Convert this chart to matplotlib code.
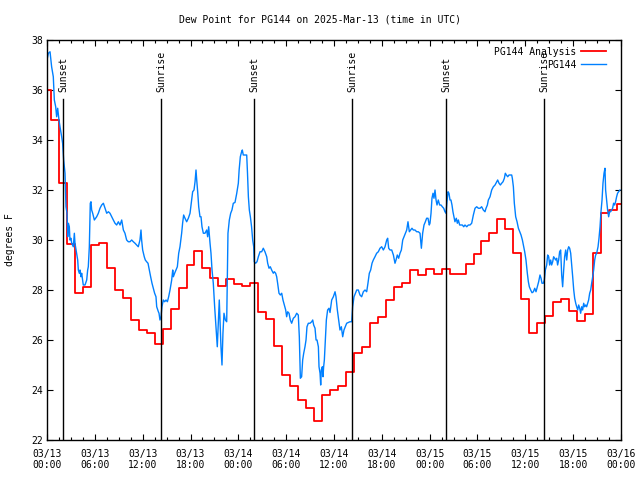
import numpy as np
import matplotlib
matplotlib.use('Agg')
import matplotlib.pyplot as plt
from matplotlib.ticker import MultipleLocator

plt.rcParams['font.family'] = ['DejaVu Sans Mono']

title = 'Dew Point for PG144 on 2025-Mar-13 (time in UTC)'

# hourly analysis values, hours 0..72 after 2025-03-13 00:00 UTC
analysis = [36.0, 34.8, 32.3, 29.85, 27.87, 28.13, 29.8, 29.87, 28.9, 28.0,
            27.67, 26.8, 26.4, 26.27, 25.84, 26.43, 27.23, 28.1, 29.0, 29.55,
            28.87, 28.47, 28.16, 28.44, 28.24, 28.16, 28.27, 27.13, 26.83, 25.76,
            24.6, 24.16, 23.6, 23.3, 22.77, 23.8, 24.0, 24.16, 24.73, 25.47,
            25.71, 26.67, 26.93, 27.6, 28.13, 28.3, 28.8, 28.6, 28.83, 28.63,
            28.83, 28.63, 28.63, 29.03, 29.43, 29.96, 30.3, 30.83, 30.43, 29.5,
            27.64, 26.27, 26.67, 26.97, 27.53, 27.64, 27.16, 26.76, 27.04, 29.47,
            31.07, 31.2, 31.44]
analysis_hours = list(range(len(analysis)))

# station observations (hours after start, deg F)
obs_hours = [
    0.0, 0.17, 0.38, 0.45, 0.58, 0.79, 0.92, 1.09, 1.21, 1.34, 1.5, 1.63, 1.84, 1.96,
    2.09, 2.26, 2.38, 2.51, 2.6, 2.68, 2.8, 2.88, 3.0, 3.1, 3.3, 3.43, 3.51, 3.72,
    3.85, 3.93, 4.05, 4.14, 4.26, 4.35, 4.47, 4.55, 4.77, 4.98, 5.1, 5.18, 5.31, 5.43,
    5.52, 5.6, 5.73, 5.94, 6.23, 6.44, 6.65, 6.86, 7.07, 7.28, 7.49, 7.7, 7.9, 8.11,
    8.32, 8.53, 8.74, 8.95, 9.16, 9.37, 9.58, 9.78, 9.99, 10.2, 10.41, 10.62, 10.83,
    11.04, 11.25, 11.45, 11.66, 11.79, 11.87, 12.0, 12.2,
    12.33, 12.5, 12.67, 12.83, 13.0, 13.17, 13.33, 13.5, 13.67, 13.76, 13.97, 14.05,
    14.17, 14.3, 14.42, 14.59, 14.76, 14.93, 15.1, 15.26, 15.43, 15.64, 15.77, 15.85,
    16.01, 16.18, 16.35, 16.52, 16.68, 16.89, 17.01, 17.14, 17.31, 17.52, 17.73, 17.94,
    18.15, 18.27, 18.44, 18.57, 18.69, 18.78, 18.9, 19.03, 19.19, 19.32, 19.44, 19.61,
    19.82, 20.03, 20.15, 20.28, 20.45, 20.57, 20.7, 20.86, 21.03, 21.2, 21.36, 21.49,
    21.61, 21.7, 21.82, 21.95, 22.07, 22.2, 22.37, 22.54, 22.62, 22.7, 22.87, 23.04,
    23.2, 23.37, 23.58, 23.79, 24.0,
    24.1, 24.25, 24.41, 24.5, 24.62, 24.84, 25.05, 25.15, 25.26, 25.38, 25.51, 25.66,
    25.8, 25.93, 26.0, 26.17, 26.34, 26.51, 26.72, 26.93, 27.13, 27.34, 27.56, 27.68,
    27.85, 28.01, 28.18, 28.39, 28.52, 28.68, 28.81, 28.93, 29.1, 29.27, 29.44, 29.6,
    29.77, 29.94, 30.06, 30.19, 30.36, 30.52, 30.69, 30.9, 31.11, 31.32, 31.52, 31.65,
    31.78, 31.94, 32.07, 32.2, 32.36, 32.49, 32.61, 32.78, 32.99, 33.2, 33.33, 33.45,
    33.62, 33.75, 33.87, 34.04, 34.12, 34.25, 34.33, 34.41, 34.54, 34.62, 34.7, 34.79,
    34.87, 35.04, 35.2, 35.37,
    35.5, 35.71, 35.92, 36.13, 36.25, 36.42, 36.59, 36.75, 36.92, 37.09, 37.25, 37.42,
    37.59, 37.8, 38.0, 38.22, 38.34, 38.51, 38.68, 38.85, 39.05, 39.26, 39.47, 39.68,
    39.89, 40.1, 40.26, 40.43, 40.6, 40.77, 40.93, 41.14, 41.35, 41.56, 41.77, 41.98,
    42.19, 42.4, 42.61, 42.73, 42.86, 43.03, 43.24, 43.45, 43.65, 43.78, 43.94, 44.11,
    44.28, 44.45, 44.62, 44.78, 44.95, 45.12, 45.28, 45.45, 45.62, 45.78, 45.95, 46.16,
    46.37, 46.58, 46.79, 46.96, 47.12, 47.29, 47.46, 47.62, 47.79,
    47.95, 48.04, 48.17, 48.29, 48.42, 48.54, 48.67, 48.8, 48.92, 49.08, 49.25, 49.42,
    49.59, 49.76, 49.92, 50.05, 50.17, 50.3, 50.42, 50.55, 50.67, 50.8, 50.92, 51.05,
    51.17, 51.34, 51.47, 51.6, 51.76, 51.93, 52.1, 52.27, 52.43, 52.65, 52.85, 53.06,
    53.27, 53.48, 53.69, 53.9, 54.11, 54.32, 54.52, 54.73, 54.94, 55.07, 55.24, 55.36,
    55.57, 55.78, 55.99, 56.2, 56.41, 56.53, 56.7, 56.87, 57.03, 57.2, 57.37, 57.49,
    57.62, 57.79, 57.95, 58.12, 58.29, 58.37, 58.5, 58.62, 58.79, 58.96, 59.13, 59.3,
    59.46, 59.63, 59.79, 59.92,
    60.08, 60.25, 60.38, 60.5, 60.67, 60.84, 61.01, 61.18, 61.34, 61.5, 61.67, 61.84,
    61.97, 62.09, 62.26, 62.38, 62.51, 62.68, 62.8, 62.93, 63.05, 63.18, 63.3, 63.43,
    63.55, 63.68, 63.8, 63.93, 64.05, 64.18, 64.3, 64.43, 64.56, 64.68, 64.81, 64.93,
    65.06, 65.19, 65.31, 65.44, 65.56, 65.69, 65.82, 65.94, 66.07, 66.19, 66.32, 66.44,
    66.57, 66.69, 66.82, 66.94, 67.07, 67.19, 67.32, 67.44, 67.57, 67.69, 67.82, 67.94,
    68.07, 68.2, 68.32, 68.45, 68.57, 68.7, 68.82, 68.95, 69.12, 69.24, 69.37, 69.49,
    69.62, 69.74, 69.87, 69.99, 70.07, 70.2, 70.32, 70.45, 70.57, 70.7, 70.82, 70.95,
    71.07, 71.2, 71.32, 71.45, 71.57, 71.7, 71.87]
obs = [
    37.2, 37.47, 37.53, 37.33, 36.93, 36.53, 35.6, 35.33, 34.93, 35.27, 34.8, 34.53, 34.13, 33.87,
    33.2, 32.67, 31.33, 31.07, 30.13, 30.67, 30.53, 30.0, 30.07, 29.87, 29.73, 30.27, 29.87, 29.47,
    29.2, 28.8, 28.67, 28.8, 28.53, 28.67, 28.4, 28.2, 28.2, 28.4, 28.8, 28.93, 29.73, 31.47,
    31.53, 31.2, 31.07, 30.8, 30.93, 31.07, 31.27, 31.4, 31.47, 31.27, 31.07, 31.13, 31.07, 30.93,
    30.8, 30.67, 30.6, 30.73, 30.6, 30.8, 30.4, 30.27, 30.0, 29.93, 29.93, 30.0, 29.93,
    29.87, 29.8, 29.73, 30.0, 30.4, 30.0, 29.6, 29.33,
    29.2, 29.13, 29.07, 28.8, 28.53, 28.27, 28.07, 27.87, 27.73, 27.33, 27.13, 27.07,
    26.8, 26.93, 27.33, 27.6, 27.53, 27.6, 27.53, 27.73, 28.0, 28.4, 28.8, 28.53,
    28.67, 28.8, 28.93, 29.47, 29.73, 30.27, 30.67, 31.0, 30.87, 30.73, 30.87, 31.07,
    31.6, 31.93, 32.0, 32.33, 32.8, 32.4, 31.93, 31.33, 30.93, 30.93, 30.53, 30.27,
    30.27, 30.4, 30.13, 30.53, 29.87, 29.47, 28.8, 28.27, 27.33, 26.53, 25.73, 26.67,
    27.6, 26.8, 25.73, 25.0, 26.27, 27.07, 26.8, 26.73, 28.4, 30.27, 30.8, 31.07,
    31.2, 31.47, 31.5, 31.85, 32.27,
    32.8, 33.33, 33.53, 33.6, 33.4, 33.4, 33.4, 32.67, 31.73, 31.2, 30.93, 30.53,
    30.0, 29.73, 29.13, 29.07, 29.13, 29.33, 29.53, 29.53, 29.67, 29.53, 29.33, 29.07,
    28.87, 28.93, 28.8, 28.67, 28.73, 28.67, 28.53, 28.27, 27.87, 27.8, 27.87, 27.6,
    27.4, 27.2, 26.93, 27.13, 27.07, 26.8, 26.67, 26.87, 26.93, 27.07, 27.0, 26.13,
    24.47, 24.53, 25.2, 25.47, 25.73, 26.0, 26.53, 26.67, 26.67, 26.73, 26.8, 26.6,
    26.47, 26.0, 26.0, 25.73, 24.93, 24.67, 24.2, 24.8, 24.93, 24.53, 24.93, 25.2,
    25.73, 26.8, 27.2, 27.27,
    27.1, 27.6, 27.73, 27.93, 27.73, 27.2, 26.8, 26.4, 26.53, 26.13, 26.4, 26.53,
    26.67, 26.7, 26.73, 26.73, 27.33, 27.73, 27.87, 28.0, 28.0, 27.8, 27.73, 27.93,
    28.0, 27.93, 28.27, 28.67, 28.8, 29.07, 29.2, 29.33, 29.47, 29.53, 29.67, 29.73,
    29.6, 29.73, 30.0, 30.07, 29.67, 29.6, 29.6, 29.4, 29.07, 29.2, 29.4, 29.27,
    29.47, 29.6, 30.0, 30.13, 30.27, 30.4, 30.73, 30.33, 30.4, 30.47, 30.4, 30.4,
    30.33, 30.33, 30.27, 29.67, 30.27, 30.6, 30.73, 30.87, 30.87,
    30.6, 30.67, 31.07, 31.67, 31.87, 31.67, 32.0, 31.6, 31.4, 31.6, 31.4, 31.4,
    31.33, 31.27, 31.13, 31.07, 31.53, 31.93, 31.87, 31.6, 31.6, 31.4, 31.13, 30.93,
    30.73, 30.87, 30.67, 30.8, 30.6, 30.6, 30.6, 30.53, 30.6, 30.53, 30.6, 30.6,
    30.67, 31.0, 31.27, 31.33, 31.27, 31.27, 31.33, 31.2, 31.13, 31.27, 31.4, 31.6,
    31.73, 32.0, 32.13, 32.2, 32.33, 32.4, 32.27, 32.2, 32.27, 32.33, 32.47, 32.67,
    32.6, 32.53, 32.6, 32.6, 32.6, 32.47, 32.13, 31.47, 30.93, 30.73, 30.47, 30.33,
    30.2, 30.0, 29.73, 29.53,
    29.2, 28.67, 28.33, 28.13, 28.0, 27.89, 27.93, 28.07, 27.93, 28.13, 28.33, 28.6,
    28.47, 28.27, 28.27, 28.4, 28.8, 29.0, 29.4, 29.33, 29.0, 29.2, 29.0, 29.13,
    29.33, 29.27, 29.2, 29.27, 29.0, 29.2, 29.53, 29.6, 28.6, 28.13, 28.8, 29.33,
    29.6, 29.2, 29.6, 29.73, 29.67, 29.47, 29.0, 28.53, 28.0, 27.67, 27.47, 27.33,
    27.2, 27.4, 27.27, 27.07, 27.33, 27.2, 27.47, 27.33, 27.4, 27.33, 27.47, 27.6,
    27.87, 28.0, 28.27, 28.53, 28.8, 29.2, 29.4, 29.47, 29.73, 30.07, 30.53, 31.13,
    31.6, 32.27, 32.67, 32.87, 32.0, 31.6, 31.2, 30.93, 31.13, 31.13, 31.2, 31.27,
    31.47, 31.4, 31.53, 31.73, 31.87, 31.93, 32.0]

sun_hours = [2.05, 14.34, 26.0, 38.3, 50.09, 62.38]
sun_labels = ['Sunset', 'Sunrise', 'Sunset', 'Sunrise', 'Sunset', 'Sunrise']

xtick_hours = list(range(0, 73, 6))
xtick_labels = ['03/13\n00:00', '03/13\n06:00', '03/13\n12:00', '03/13\n18:00',
                '03/14\n00:00', '03/14\n06:00', '03/14\n12:00', '03/14\n18:00',
                '03/15\n00:00', '03/15\n06:00', '03/15\n12:00', '03/15\n18:00',
                '03/16\n00:00']
yticks = list(range(22, 39, 2))

fig = plt.figure(figsize=(6.4, 4.8), dpi=100)
ax = fig.add_axes([47 / 640, 40 / 480, 574 / 640, 400 / 480])

ax.plot(analysis_hours, analysis, color='#ff0000', lw=1.3,
        drawstyle='steps-mid', label='PG144 Analysis')
ax.plot(obs_hours, obs, color='#0080ff', lw=1.0, label='PG144')

# sunrise / sunset markers
for h, lab in zip(sun_hours, sun_labels):
    ax.plot([h, h], [22, 35.64], color='black', lw=1.0)
    ax.text(h, 35.92, lab, rotation=90, ha='center', va='bottom', fontsize=7)

ax.set_xlim(0, 72)
ax.set_ylim(22, 38)
ax.set_xticks(xtick_hours)
ax.set_xticklabels(xtick_labels, linespacing=1.15)
ax.xaxis.set_minor_locator(MultipleLocator(1.5))
ax.set_yticks(yticks)
ax.tick_params(which='both', direction='in', top=True, right=True, labelsize=7)
ax.tick_params(which='major', length=4.5, width=0.8)
ax.tick_params(which='minor', length=2.5, width=0.8)
ax.tick_params(axis='x', pad=6.5)
ax.tick_params(axis='y', pad=3)
for s in ax.spines.values():
    s.set_linewidth(1.0)

ax.legend(loc='upper right', bbox_to_anchor=(0.983, 0.995), frameon=False,
          markerfirst=False, fontsize=7, handlelength=2.6, handletextpad=0.5,
          labelspacing=0.3, borderpad=0)

fig.text(0.5, 1 - 20 / 480, title, ha='center', va='center', fontsize=7)
fig.text(10 / 640, 0.5, 'degrees F', rotation=90, ha='center', va='center', fontsize=7)

fig.savefig('out.png', dpi=100)
